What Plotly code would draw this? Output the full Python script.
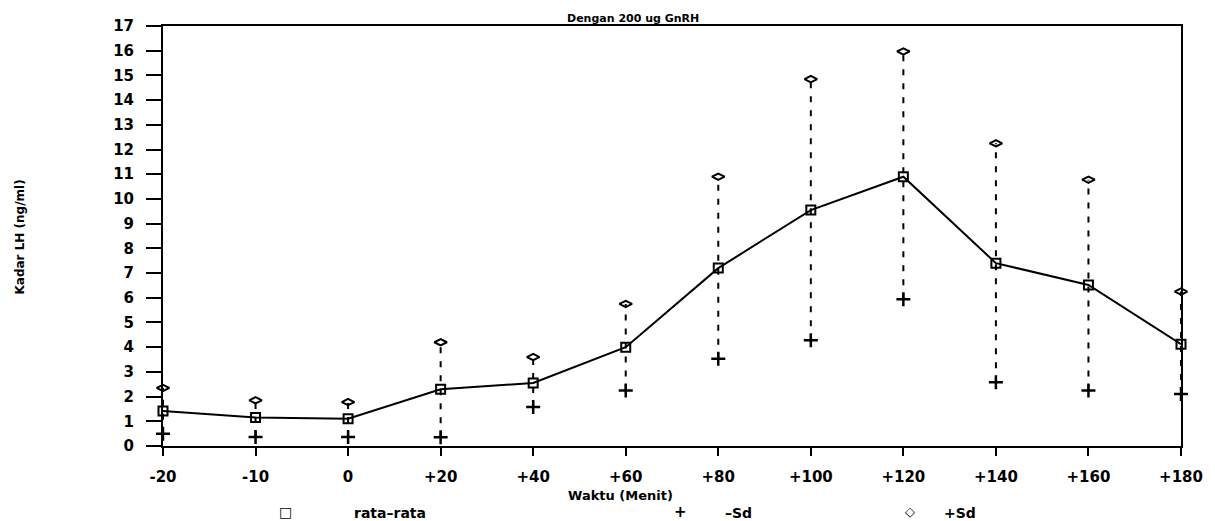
import plotly.graph_objects as go

# ---- data ----
time_labels = ["-20", "-10", "0", "+20", "+40", "+60", "+80", "+100", "+120", "+140", "+160", "+180"]
mean_lh = [1.42, 1.15, 1.1, 2.3, 2.55, 4.0, 7.2, 9.55, 10.9, 7.4, 6.52, 4.12]
minus_sd = [0.5, 0.36, 0.36, 0.35, 1.58, 2.25, 3.53, 4.28, 5.94, 2.58, 2.25, 2.1]
plus_sd = [2.35, 1.85, 1.78, 4.2, 3.6, 5.75, 10.9, 14.85, 15.97, 12.25, 10.78, 6.25]
y_ticks = list(range(0, 18))

OFF = 8  # page body margin
W, H = 1215 - OFF, 521 - OFF
L, T = 163 - OFF, 17 - OFF
R = W - (1181 - OFF)
B = H - (446 - OFF)
pw, ph = W - L - R, H - T - B

def px_x(x):
    return (x - OFF - L) / pw

def px_y(y):
    return (H - B - (y - OFF)) / ph

FONT = "DejaVu Sans"

fig = go.Figure()

# dashed vertical SD lines
vx, vy = [], []
for t, lo, hi in zip(time_labels, minus_sd, plus_sd):
    vx += [t, t, None]
    vy += [lo, hi, None]
fig.add_trace(go.Scatter(x=vx, y=vy, mode="lines",
                         line=dict(color="black", width=2, dash="6px,8px"),
                         showlegend=False, hoverinfo="skip", cliponaxis=False))

fig.add_trace(go.Scatter(x=time_labels, y=mean_lh, mode="lines+markers", name="rata-rata",
                         line=dict(color="black", width=2),
                         marker=dict(symbol="square-open", size=9, color="black",
                                     line=dict(width=2, color="black")),
                         showlegend=False, cliponaxis=False))
fig.add_trace(go.Scatter(x=time_labels, y=minus_sd, mode="markers", name="-Sd",
                         marker=dict(symbol="cross-thin-open", size=10, color="black",
                                     line=dict(width=2.5, color="black")),
                         showlegend=False, cliponaxis=False))
fig.add_trace(go.Scatter(x=time_labels, y=plus_sd, mode="markers", name="+Sd",
                         marker=dict(symbol="diamond-wide-open", size=9, color="black",
                                     line=dict(width=2, color="black")),
                         showlegend=False, cliponaxis=False))

fig.update_layout(
    width=W, height=H,
    margin=dict(l=L, r=R, t=T, b=B, pad=0),
    paper_bgcolor="white", plot_bgcolor="white",
    font=dict(family=FONT, color="black", size=13),
    xaxis=dict(type="category", categoryorder="array", categoryarray=time_labels,
               range=[0, 11], showgrid=False, zeroline=False,
               showline=True, linecolor="black", linewidth=2, mirror=True,
               ticks="outside", ticklen=8, tickwidth=2, tickcolor="black",
               ticklabelstandoff=8,
               tickfont=dict(family=FONT, size=15, weight="bold")),
    yaxis=dict(range=[0, 17], tickvals=y_ticks, showgrid=False, zeroline=False,
               showline=True, linecolor="black", linewidth=2, mirror=True,
               ticks="outside", ticklen=15, tickwidth=2, tickcolor="black",
               ticklabelstandoff=9,
               tickfont=dict(family=FONT, size=15, weight="bold")),
)

ann = [
    dict(text="Dengan 200 ug GnRH", x=633, y=9, size=11),
    dict(text="Waktu (Menit)", x=620, y=497, size=13),
    dict(text="\u25a1", x=285, y=513, size=14),
    dict(text="rata\u2013rata", x=390, y=514, size=14),
    dict(text="+", x=680, y=513, size=15),
    dict(text="\u2013Sd", x=738, y=514, size=14),
    dict(text="\u25c7", x=910, y=513, size=13),
    dict(text="+Sd", x=960, y=514, size=14),
]
for a in ann:
    fig.add_annotation(text=a["text"], x=px_x(a["x"]), y=px_y(a["y"]), xref="paper", yref="paper",
                       xanchor="center", yanchor="middle", showarrow=False,
                       font=dict(family=FONT, size=a["size"], weight="bold", color="black"))

fig.add_annotation(text="Kadar LH (ng/ml)", x=px_x(20), y=px_y(233), xref="paper", yref="paper",
                   xanchor="center", yanchor="middle", showarrow=False, textangle=-90,
                   font=dict(family=FONT, size=12, weight="bold", color="black"))

fig.write_html("out.html")
